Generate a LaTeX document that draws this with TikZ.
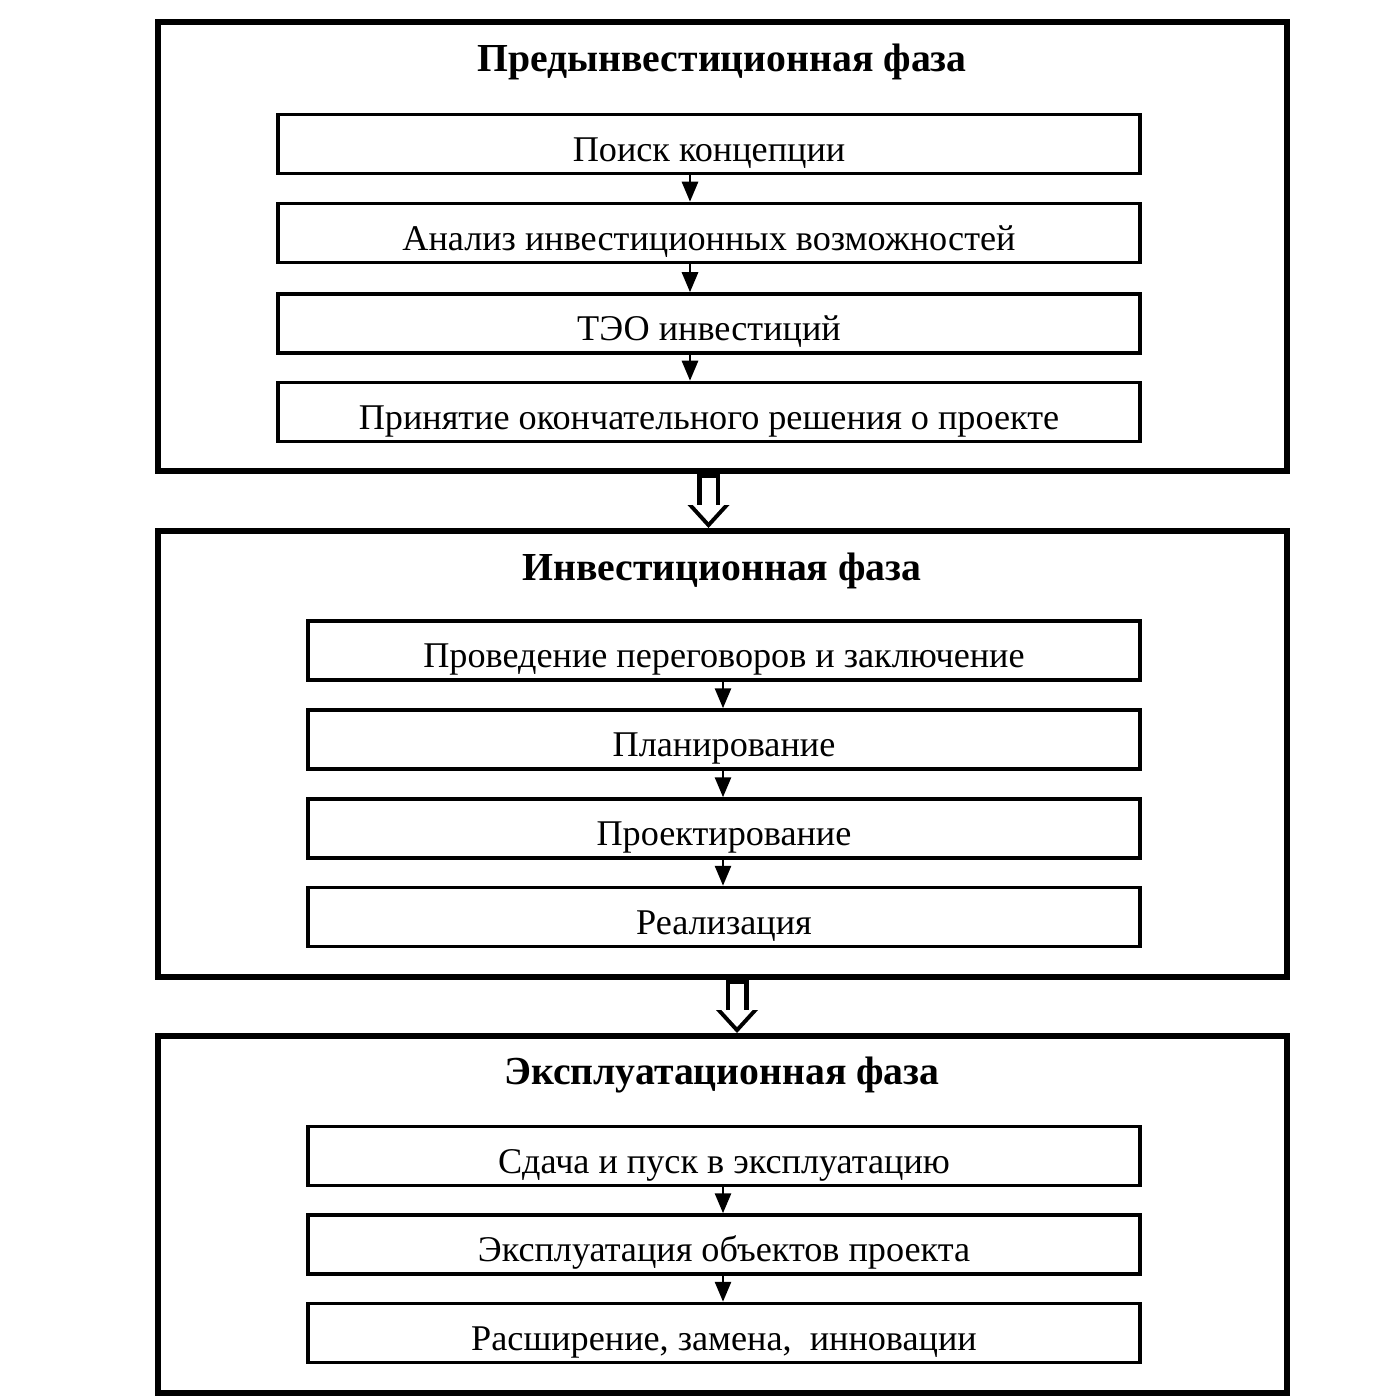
\documentclass[tikz,border=0pt]{standalone}
\usepackage{fontspec}
\setmainfont{Liberation Serif}
\usetikzlibrary{positioning,calc,arrows.meta}
\tikzset{phasebox/.style={draw, line width=1.7pt, inner sep=0pt}}
\tikzset{phasetitle/.style={font=\fontsize{11.3}{13}\selectfont\bfseries, inner sep=1pt}}
\tikzset{stepbox/.style={draw, line width=1pt, inner sep=0pt, minimum height=0.59cm, text height=2.35ex, text depth=0.2ex, font=\fontsize{10.3}{12}\selectfont}}
\tikzset{arr1/.style={draw, line width=0.8pt, -{Triangle[length=2mm, width=1.6mm]}}}
\tikzset{hollowout/.style={draw, line width=2.3mm, -{Triangle[length=2.3mm, width=4.2mm, line width=0pt]}}}
\tikzset{hollowin/.style={draw=white, line width=1.4mm, shorten <=0.4mm, shorten >=0.6mm, -{Triangle[length=1.7mm, width=3.1mm, line width=0pt]}}}
\newcommand\hollowarr[2]{
		\draw[hollowout] (#1) -- (#2);
		\draw[hollowin] (#1) -- (#2);
		}

\begin{document}
\begin{tikzpicture}
		\useasboundingbox (0,0) rectangle (14,-14);
		% phases
		\node[phasebox, minimum width=11.29cm, minimum height=4.49cm] (pre) at (7.225,-2.465) {};
		\node[phasebox, minimum width=11.29cm, minimum height=4.46cm] (inv) at (7.225,-7.54) {};
		\node[phasebox, minimum width=11.29cm, minimum height=3.57cm] (expl) at (7.225,-12.145) {};
		\node[phasetitle] (preT) at (7.22,-0.62) {Предынвестиционная фаза};
		\node[phasetitle] (invT) at (7.22,-5.71) {Инвестиционная фаза};
		\node[phasetitle] (explT) at (7.22,-10.75) {Эксплуатационная фаза};
		% steps of the first phase
		\node[stepbox, minimum width=8.62cm] (pre1) at (7.09,-1.44) {Поиск концепции};
		\node[stepbox, minimum width=8.62cm] (pre2) at (7.09,-2.33) {Анализ инвестиционных возможностей};
		\node[stepbox, minimum width=8.62cm] (pre3) at (7.09,-3.235) {ТЭО инвестиций};
		\node[stepbox, minimum width=8.62cm] (pre4) at (7.09,-4.12) {Принятие окончательного решения о проекте};
		% steps of the second phase
		\node[stepbox, minimum width=8.32cm] (inv1) at (7.24,-6.505) {Проведение переговоров и заключение};
		\node[stepbox, minimum width=8.32cm] (inv2) at (7.24,-7.395) {Планирование};
		\node[stepbox, minimum width=8.32cm] (inv3) at (7.24,-8.285) {Проектирование};
		\node[stepbox, minimum width=8.32cm] (inv4) at (7.24,-9.17) {Реализация};
		% steps of the third phase
		\node[stepbox, minimum width=8.32cm] (expl1) at (7.24,-11.56) {Сдача и пуск в эксплуатацию};
		\node[stepbox, minimum width=8.32cm] (expl2) at (7.24,-12.445) {Эксплуатация объектов проекта};
		\node[stepbox, minimum width=8.32cm] (expl3) at (7.24,-13.33) {Расширение, замена,\ \ инновации};
		\coordinate (xa) at (6.9,0);
		\coordinate (xb) at (7.23,0);
		\coordinate (xc) at (7.085,0);
		\coordinate (xd) at (7.37,0);
		\draw[arr1] (pre1.south -| xa) -- (pre2.north -| xa);
		\draw[arr1] (pre2.south -| xa) -- (pre3.north -| xa);
		\draw[arr1] (pre3.south -| xa) -- (pre4.north -| xa);
		\draw[arr1] (inv1.south -| xb) -- (inv2.north -| xb);
		\draw[arr1] (inv2.south -| xb) -- (inv3.north -| xb);
		\draw[arr1] (inv3.south -| xb) -- (inv4.north -| xb);
		\draw[arr1] (expl1.south -| xb) -- (expl2.north -| xb);
		\draw[arr1] (expl2.south -| xb) -- (expl3.north -| xb);
		\hollowarr{pre.south -| xc}{inv.north -| xc}
		\hollowarr{inv.south -| xd}{expl.north -| xd}
	\end{tikzpicture}
\end{document}
